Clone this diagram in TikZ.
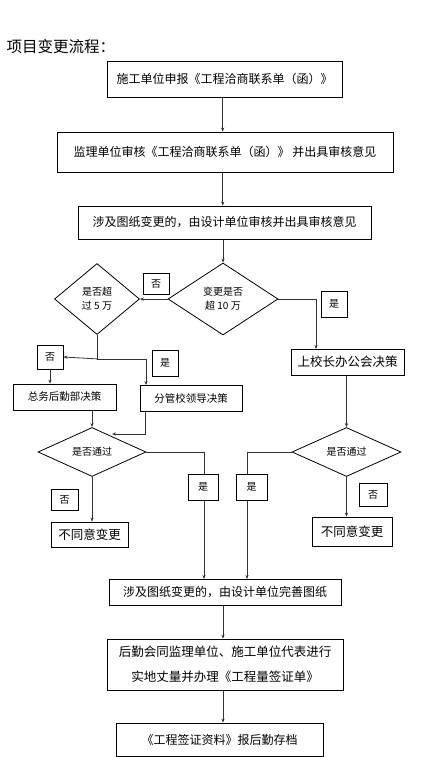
\documentclass[tikz,border=0pt]{standalone}
\usepackage{fontspec}
\setmainfont{Noto Sans CJK SC}
\usetikzlibrary{shapes.geometric,arrows.meta,backgrounds}
\tikzset{
  box/.style={draw, line width=0.8pt, fill=white, inner sep=0pt, align=center, font=\fontsize{12}{15}\selectfont},
  sbox/.style={box, font=\fontsize{10.5}{13}\selectfont},
  lbl/.style={draw, line width=0.8pt, fill=white, inner sep=0pt, font=\fontsize{10}{12}\selectfont},
  dia/.style={draw, diamond, line width=0.8pt, fill=white, inner sep=0pt, align=center, font=\fontsize{10}{14}\selectfont},
  conn/.style={line width=0.8pt, draw=black!80},
  arr/.style={conn, -{Stealth[length=4pt,width=3.2pt]}}
}
\begin{document}
\begin{tikzpicture}[x=1pt,y=-1pt]
\useasboundingbox (0,0) rectangle (447,757);
\node[anchor=west, font=\fontsize{15.5}{18}\selectfont] (title) at (3,47) {项目变更流程：};
\node[box, minimum width=235pt, minimum height=36pt] (b1) at (224.5,79) {施工单位申报《工程洽商联系单（函）》};
\node[box, minimum width=336pt, minimum height=40pt] (b2) at (225,152) {监理单位审核《工程洽商联系单（函）》 并出具审核意见};
\node[box, minimum width=293pt, minimum height=33pt] (b3) at (224.5,222.5) {涉及图纸变更的，由设计单位审核并出具审核意见};
\node[dia, aspect=1.5, minimum width=110pt, minimum height=72pt] (d1) at (223,299) {变更是否\\超 10 万};
\node[dia, aspect=1.2, minimum width=85pt, minimum height=71pt] (d2) at (97,299) {是否超\\过 5 万};
\node[lbl, minimum width=26pt, minimum height=21pt] (no1) at (156,283.5) {否};
\node[lbl, minimum width=26pt, minimum height=26pt] (yes1) at (334,304) {是};
\node[lbl, minimum width=26pt, minimum height=24pt] (no2) at (50,357) {否};
\node[lbl, minimum width=26pt, minimum height=26pt] (yes2) at (165,363) {是};
\node[sbox, minimum width=103pt, minimum height=26pt] (zw) at (64.5,397) {总务后勤部决策};
\node[sbox, minimum width=102pt, minimum height=26pt] (fg) at (191,398) {分管校领导决策};
\node[box, font=\fontsize{12.5}{15}\selectfont, minimum width=113pt, minimum height=26pt] (up) at (347.5,362) {上校长办公会决策};
\node[dia, aspect=2.2, minimum width=108pt, minimum height=49pt] (d3) at (92,452) {是否通过};
\node[dia, aspect=2.2, minimum width=109pt, minimum height=49pt] (d4) at (346.5,452) {是否通过};
\node[lbl, minimum width=30pt, minimum height=26pt] (yes3) at (203,487) {是};
\node[lbl, minimum width=31pt, minimum height=26pt] (yes4) at (251.5,487) {是};
\node[lbl, minimum width=27pt, minimum height=21pt] (no3) at (64.5,499.5) {否};
\node[lbl, minimum width=28pt, minimum height=23pt] (no4) at (373,494.5) {否};
\node[box, font=\fontsize{12.5}{15}\selectfont, minimum width=77pt, minimum height=25pt] (rl) at (89.5,534.5) {不同意变更};
\node[box, font=\fontsize{12.5}{15}\selectfont, minimum width=80pt, minimum height=29pt] (rr) at (352,531.5) {不同意变更};
\node[box, minimum width=232pt, minimum height=26pt] (wan) at (225,592) {涉及图纸变更的，由设计单位完善图纸};
\node[box, font=\fontsize{12.5}{25}\selectfont, minimum width=236pt, minimum height=51pt] (hq) at (225,664.5) {后勤会同监理单位、施工单位代表进行\\实地丈量并办理《工程量签证单》};
\node[box, minimum width=207pt, minimum height=33pt] (last) at (219.5,739.5) {《工程签证资料》报后勤存档};
\coordinate (c1) at (316,349);
\coordinate (c2) at (146,385);
\coordinate (c3a) at (145,411);
\coordinate (c3b) at (112,434);
\coordinate (c4) at (204,579);
\coordinate (c5) at (247,579);
\begin{pgfonlayer}{background}
\draw[arr] (b1.south -| 222.7,0) -- (b2.north -| 222.7,0);
\draw[arr] (b2.south -| 222.7,0) -- (b3.north -| 222.7,0);
\draw[arr] (b3.south -| d1.north) -- (d1.north);
\draw[arr] (d1.west) -- (d2.east);
\draw[arr] (d1.east) -| (c1);
\draw[conn] (d2.south) -- ++(0,24) coordinate (j1);
\draw[arr] (j1) -- (no2.east);
\draw[arr] (j1) -| (c2);
\draw[arr] (no2.south) -- (no2.south |- zw.north);
\draw[arr] (zw.south -| d3.north) -- (d3.north);
\draw[arr] (c3a) |- (c3b);
\draw[arr] (d3.east) -| (c4);
\draw[arr] (d3.south) -- (d3.south |- rl.north);
\draw[arr] (up.south -| d4.north) -- (d4.north);
\draw[arr] (d4.west) -| (c5);
\draw[arr] (d4.south) -- (d4.south |- rr.north);
\draw[arr] (wan.south -| 223,0) -- (hq.north -| 223,0);
\draw[arr] (hq.south -| 223,0) -- (last.north -| 223,0);
\end{pgfonlayer}
\end{tikzpicture}
\end{document}
